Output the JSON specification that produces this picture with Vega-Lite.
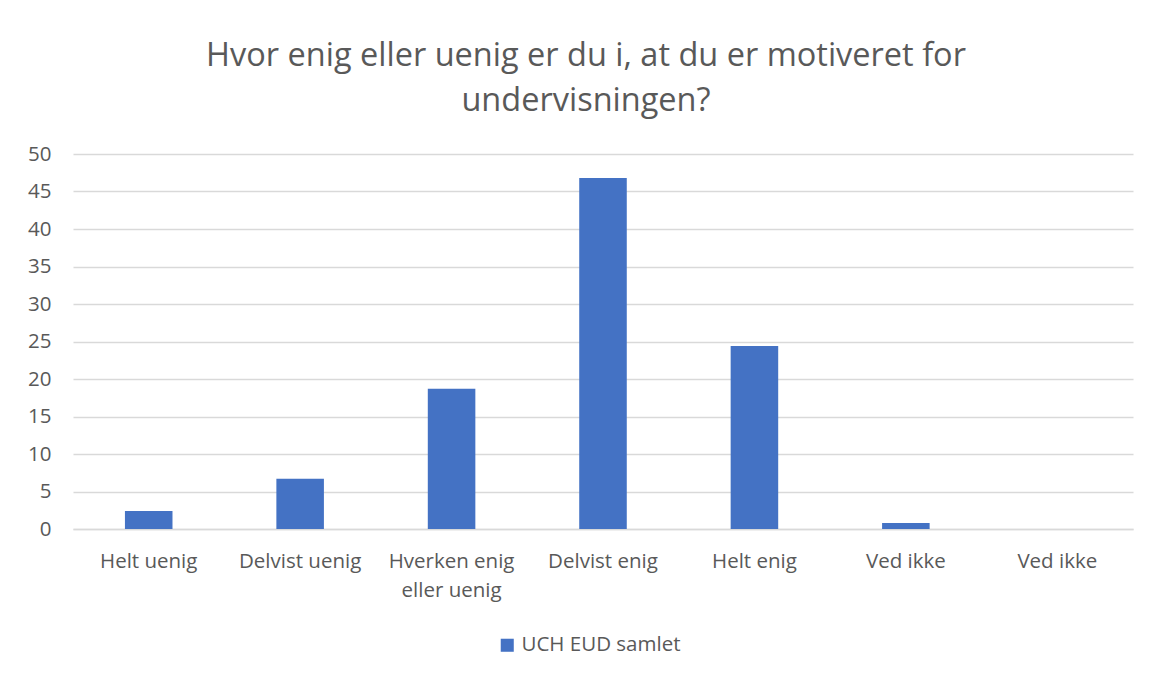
{
  "$schema": "https://vega.github.io/schema/vega-lite/v6.json",
  "width": 1060,
  "height": 375,
  "autosize": "none",
  "padding": {"left": 73, "top": 154, "right": 16, "bottom": 144},
  "background": "white",
  "title": {
    "text": ["Hvor enig eller uenig er du i, at du er motiveret for", "undervisningen?"],
    "font": "Open Sans",
    "fontSize": 32.5,
    "fontWeight": "normal",
    "color": "#595959",
    "lineHeight": 45,
    "anchor": "middle",
    "dx": -17,
    "offset": 27
  },
  "data": {
    "values": [
      {"svar": "Helt uenig", "procent": 2.4, "serie": "UCH EUD samlet"},
      {"svar": "Delvist uenig", "procent": 6.7, "serie": "UCH EUD samlet"},
      {"svar": "Hverken enig eller uenig", "procent": 18.7, "serie": "UCH EUD samlet"},
      {"svar": "Delvist enig", "procent": 46.8, "serie": "UCH EUD samlet"},
      {"svar": "Helt enig", "procent": 24.4, "serie": "UCH EUD samlet"},
      {"svar": "Ved ikke", "procent": 0.8, "serie": "UCH EUD samlet"},
      {"svar": "Ved ikke ", "procent": 0, "serie": "UCH EUD samlet"}
    ]
  },
  "mark": {"type": "bar", "color": "#4472C4"},
  "encoding": {
    "x": {
      "field": "svar",
      "type": "nominal",
      "sort": null,
      "scale": {"paddingInner": 0.686, "paddingOuter": 0.343},
      "axis": {
        "title": null,
        "labelAngle": 0,
        "ticks": false,
        "domain": true,
        "domainColor": "#d9d9d9",
        "domainWidth": 1.5,
        "labelFont": "Open Sans",
        "labelFontSize": 20.5,
        "labelColor": "#595959",
        "labelPadding": 22,
        "labelLineHeight": 29,
        "labelExpr": "datum.value == 'Hverken enig eller uenig' ? ['Hverken enig', 'eller uenig'] : datum.value"
      }
    },
    "y": {
      "field": "procent",
      "type": "quantitative",
      "scale": {"domain": [0, 50]},
      "axis": {
        "title": null,
        "values": [0, 5, 10, 15, 20, 25, 30, 35, 40, 45, 50],
        "ticks": false,
        "domain": false,
        "gridColor": "#d9d9d9",
        "gridWidth": 1.5,
        "labelFont": "Open Sans",
        "labelFontSize": 20.5,
        "labelColor": "#595959",
        "labelPadding": 22
      }
    },
    "fill": {
      "field": "serie",
      "type": "nominal",
      "scale": {"range": ["#4472C4"]},
      "legend": {
        "title": null,
        "orient": "none",
        "legendX": 424,
        "legendY": 481,
        "symbolType": "square",
        "symbolSize": 170,
        "symbolStrokeWidth": 0,
        "labelFont": "Open Sans",
        "labelFontSize": 20.5,
        "labelColor": "#595959",
        "labelOffset": 4
      }
    }
  },
  "config": {"view": {"stroke": null}}
}
